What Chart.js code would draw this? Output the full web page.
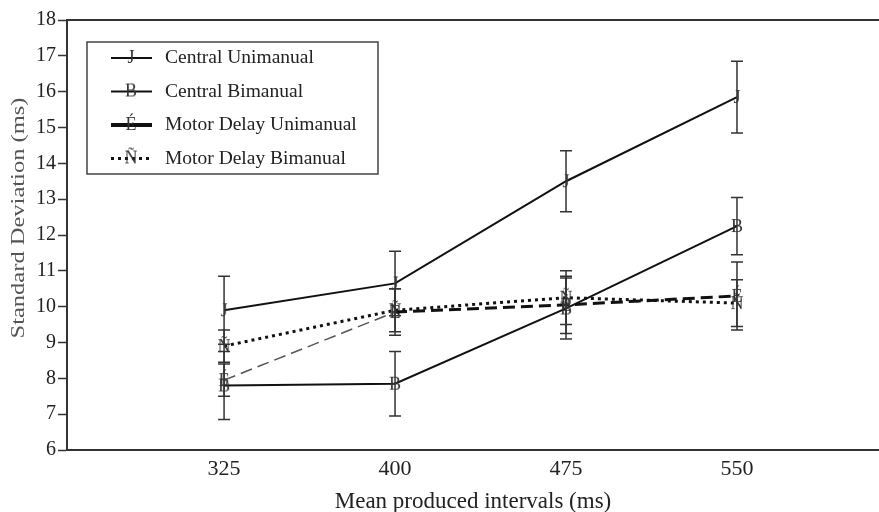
<!DOCTYPE html>
<html>
<head>
<meta charset="utf-8">
<script src="https://cdn.jsdelivr.net/npm/chart.js@4"></script>
<style>
  html, body { margin: 0; padding: 0; background: #fff; }
  #wrap { width: 879px; height: 512px; }
</style>
</head>
<body>
<div id="wrap"><canvas id="chart" width="879" height="512"></canvas></div>
<script>
// data
const intervals = [325, 400, 475, 550];
const seriesNames = ['Central Unimanual', 'Central Bimanual', 'Motor Delay Unimanual', 'Motor Delay Bimanual'];
const markerGlyphs = ['J', 'B', 'É', 'Ñ'];
const centralUni = [9.9, 10.65, 13.5, 15.85];
const centralUniErr = [0.95, 0.9, 0.85, 1.0];
const centralBi = [7.8, 7.85, 9.95, 12.25];
const centralBiErr = [0.95, 0.9, 0.85, 0.8];
const motorUni = [7.95, 9.85, 10.05, 10.3];
const motorUniErr = [0.45, 0.65, 0.8, 0.95];
const motorBi = [8.9, 9.9, 10.25, 10.1];
const motorBiErr = [0.45, 0.6, 0.75, 0.65];
const yTicks = [6, 7, 8, 9, 10, 11, 12, 13, 14, 15, 16, 17, 18];

const SERIF = '"Liberation Serif", "DejaVu Serif", serif';

// letter markers, like the odd glyphs of the scan
function glyph(ch) {
    const c = document.createElement('canvas');
    c.width = 18; c.height = 22;
    const g = c.getContext('2d');
    g.font = '18px ' + SERIF;
    g.fillStyle = '#333';
    g.textAlign = 'center';
    g.textBaseline = 'middle';
    g.fillText(ch, 9, 12);
    return c;
}

function makeSet(i, values, errs, style) {
    return Object.assign({
        label: seriesNames[i],
        data: intervals.map((x, k) => ({ x: x, y: values[k] })),
        errors: errs,
        pointStyle: glyph(markerGlyphs[i]),
        borderColor: '#111',
        fill: false,
        tension: 0
    }, style);
}

const datasets = [
    makeSet(0, centralUni, centralUniErr, { borderWidth: 2 }),
    makeSet(1, centralBi, centralBiErr, { borderWidth: 2 }),
    makeSet(2, motorUni, motorUniErr, {
        borderWidth: 3, borderDash: [12, 6],
        segment: {
            borderWidth: ctx => ctx.p0DataIndex === 0 ? 1.5 : 3,
            borderColor: ctx => ctx.p0DataIndex === 0 ? '#555' : '#111'
        }
    }),
    makeSet(3, motorBi, motorBiErr, { borderWidth: 3, borderDash: [3, 4] })
];

// vertical error bars with caps
const errorBars = {
    id: 'errorBars',
    afterDatasetsDraw(chart) {
        const ctx = chart.ctx;
        const xs = chart.scales.x, ys = chart.scales.y;
        ctx.save();
        ctx.strokeStyle = '#333';
        ctx.lineWidth = 1.5;
        chart.data.datasets.forEach(ds => {
            ds.data.forEach((p, k) => {
                const e = ds.errors[k];
                const px = xs.getPixelForValue(p.x);
                const top = ys.getPixelForValue(p.y + e);
                const bot = ys.getPixelForValue(p.y - e);
                ctx.beginPath();
                ctx.moveTo(px, top); ctx.lineTo(px, bot);
                ctx.moveTo(px - 6, top); ctx.lineTo(px + 6, top);
                ctx.moveTo(px - 6, bot); ctx.lineTo(px + 6, bot);
                ctx.stroke();
            });
        });
        ctx.restore();
    }
};

// boxed legend inside the plot, top left
const boxLegend = {
    id: 'boxLegend',
    afterDraw(chart) {
        const ctx = chart.ctx;
        const left = 87, top = 42, w = 291, h = 132;
        ctx.save();
        ctx.strokeStyle = '#444';
        ctx.lineWidth = 1.5;
        ctx.strokeRect(left, top, w, h);
        chart.data.datasets.forEach((ds, i) => {
            const y = 58 + i * 33.5;
            ctx.beginPath();
            ctx.strokeStyle = '#111';
            ctx.lineWidth = i === 2 ? 4 : ds.borderWidth;
            ctx.setLineDash(i === 3 ? [3, 4] : []);
            ctx.moveTo(111, y); ctx.lineTo(152, y);
            ctx.stroke();
            ctx.setLineDash([]);
            ctx.drawImage(ds.pointStyle, 131 - 9, y - 12);
            ctx.fillStyle = '#222';
            ctx.font = '19.5px ' + SERIF;
            ctx.textBaseline = 'middle';
            ctx.textAlign = 'left';
            ctx.fillText(ds.label, 165, y);
        });
        ctx.restore();
    }
};

// thick line along the top, and the stretched grey y title
const frame = {
    id: 'frame',
    afterDraw(chart) {
        const a = chart.chartArea, ctx = chart.ctx;
        ctx.save();
        ctx.strokeStyle = '#333';
        ctx.lineWidth = 2;
        ctx.beginPath();
        ctx.moveTo(a.left, a.top); ctx.lineTo(chart.width, a.top);
        ctx.moveTo(a.left, a.bottom); ctx.lineTo(chart.width, a.bottom);
        ctx.stroke();
        ctx.translate(19, 218);
        ctx.rotate(-Math.PI / 2);
        ctx.scale(1.29, 1);
        ctx.fillStyle = '#555';
        ctx.font = '19px ' + SERIF;
        ctx.textAlign = 'center';
        ctx.textBaseline = 'middle';
        ctx.fillText('Standard Deviation (ms)', 0, 0);
        ctx.restore();
    }
};

new Chart(document.getElementById('chart'), {
    type: 'line',
    data: { datasets: datasets },
    plugins: [errorBars, boxLegend, frame],
    options: {
        responsive: false,
        animation: false,
        layout: { autoPadding: false, padding: { top: 20, right: 0, left: 0, bottom: 0 } },
        elements: { point: { radius: 6 } },
        plugins: {
            legend: { display: false },
            tooltip: { enabled: false }
        },
        scales: {
            x: {
                type: 'linear',
                min: 256.1,
                max: 612.3,
                afterBuildTicks: axis => { axis.ticks = intervals.map(v => ({ value: v })); },
                afterFit: axis => { axis.height = 62; axis.paddingRight = 0; axis.paddingLeft = 0; },
                grid: { display: false, drawTicks: false },
                border: { color: '#333', width: 2 },
                ticks: { color: '#222', font: { family: SERIF, size: 22 }, padding: 6, maxRotation: 0 },
                title: {
                    display: true, text: 'Mean produced intervals (ms)', color: '#222',
                    font: { family: SERIF, size: 23, lineHeight: 1 }, padding: { top: 0, bottom: -1 }
                }
            },
            y: {
                min: 6,
                max: 18,
                afterBuildTicks: axis => { axis.ticks = yTicks.map(v => ({ value: v })); },
                afterFit: axis => { axis.width = 67; },
                grid: { drawOnChartArea: false, tickLength: 9, color: '#333', tickWidth: 1.5 },
                border: { color: '#333', width: 2 },
                ticks: { color: '#222', font: { family: SERIF, size: 20 }, padding: 2 },
                title: { display: false }
            }
        }
    }
});
</script>
</body>
</html>
